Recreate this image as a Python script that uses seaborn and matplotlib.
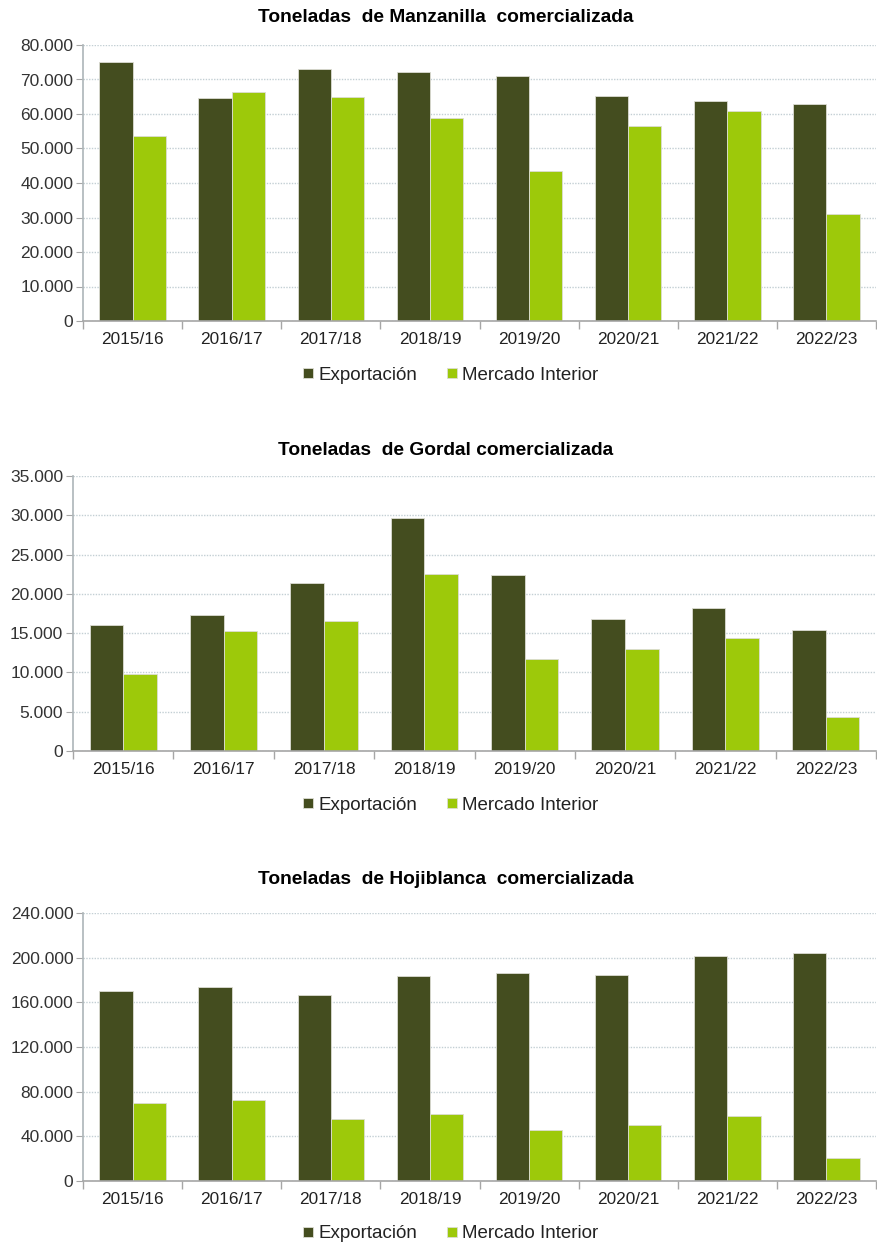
import numpy as np
import matplotlib
matplotlib.use("Agg")
import matplotlib.pyplot as plt
from matplotlib.ticker import FuncFormatter, FixedLocator
import seaborn as sns
import pandas as pd

# campañas
campanas = ["2015/16", "2016/17", "2017/18", "2018/19", "2019/20", "2020/21", "2021/22", "2022/23"]
series = ["Exportación", "Mercado Interior"]

# Manzanilla (toneladas)
manz_export = [75200, 64700, 73100, 72100, 71000, 65300, 63700, 62900]
manz_interior = [53700, 66500, 65000, 58700, 43600, 56600, 60900, 30900]

# Gordal (toneladas)
gord_export = [16100, 17300, 21400, 29600, 22400, 16800, 18200, 15400]
gord_interior = [9750, 15300, 16500, 22500, 11700, 13000, 14400, 4300]

# Hojiblanca (toneladas)
hoji_export = [169800, 173400, 166800, 183200, 186200, 184200, 201800, 203900]
hoji_interior = [70000, 72300, 55900, 60100, 46000, 50200, 58000, 20900]

titulos = ["Toneladas  de Manzanilla  comercializada",
           "Toneladas  de Gordal comercializada",
           "Toneladas  de Hojiblanca  comercializada"]
ymax = [80000, 35000, 240000]
ystep = [10000, 5000, 40000]

colores = ["#444d1f", "#9dc90a"]


def to_df(expo, inter):
    return pd.DataFrame({
        "Campaña": campanas * 2,
        "Toneladas": list(expo) + list(inter),
        "Serie": [series[0]] * len(campanas) + [series[1]] * len(campanas),
    })


sns.set_theme(style="white")
plt.rcParams["font.family"] = ["Liberation Sans", "DejaVu Sans"]

fig = plt.figure(figsize=(8.77, 12.44), dpi=100)

# posiciones en pixeles: (izq, der, arriba, abajo), titulo y, leyenda y
H, W = 1244, 877
cajas = [(83, 876, 45, 321, 18, 375),
         (73, 876, 476, 751, 450, 805),
         (83, 876, 913, 1181, 880, 1234)]

datos = [(manz_export, manz_interior),
         (gord_export, gord_interior),
         (hoji_export, hoji_interior)]

fmt = FuncFormatter(lambda v, p: f"{v:,.0f}".replace(",", "."))

for i, (expo, inter) in enumerate(datos):
    l, r, t, b, ty, ly = cajas[i]
    ax = fig.add_axes([l / W, (H - b) / H, (r - l) / W, (b - t) / H])
    df = to_df(expo, inter)
    sns.barplot(data=df, x="Campaña", y="Toneladas", hue="Serie",
                palette=colores, saturation=1, width=0.67, ax=ax, legend=True,
                edgecolor="#dcdcd4", linewidth=0.6)
    ax.set_xlim(-0.5, len(campanas) - 0.5)
    ax.set_ylim(0, ymax[i])
    ax.yaxis.set_major_locator(FixedLocator(np.arange(0, ymax[i] + 1, ystep[i])))
    ax.yaxis.set_major_formatter(fmt)
    ax.set_xlabel("")
    ax.set_ylabel("")
    ax.yaxis.grid(True, linestyle=(0, (1, 1)), color="#c3cfd4", linewidth=1)
    ax.set_axisbelow(True)
    for s in ["top", "right"]:
        ax.spines[s].set_visible(False)
    ax.spines["left"].set_linestyle((0, (1, 1)))
    ax.spines["left"].set_color("#b0b8bb")
    ax.spines["bottom"].set_color("#a6a6a6")
    ax.spines["bottom"].set_linewidth(1.2)
    ax.tick_params(axis="y", which="major", length=5, width=0.8, color="#a6a6a6",
                   labelsize=12.5, labelcolor="#333333", pad=2, left=True)
    ax.tick_params(axis="x", which="major", length=0, labelsize=12.4,
                   labelcolor="#222222", pad=8)
    ax.xaxis.set_minor_locator(FixedLocator(np.arange(-0.5, len(campanas), 1.0)))
    ax.tick_params(axis="x", which="minor", length=6, width=1, color="#a6a6a6",
                   bottom=True)

    handles, labels = ax.get_legend_handles_labels()
    ax.get_legend().remove()
    fig.legend(handles, labels, loc="center", bbox_to_anchor=(451 / W, (H - ly) / H),
               ncol=2, frameon=False, fontsize=13.5, handlelength=0.5,
               handleheight=0.5, handletextpad=0.3, columnspacing=1.6,
               labelcolor="#222222")
    fig.text(446 / W, (H - ty) / H, titulos[i], ha="center", va="center",
             fontsize=13.8, fontweight="bold", color="black")

fig.savefig("out.png", dpi=100)
